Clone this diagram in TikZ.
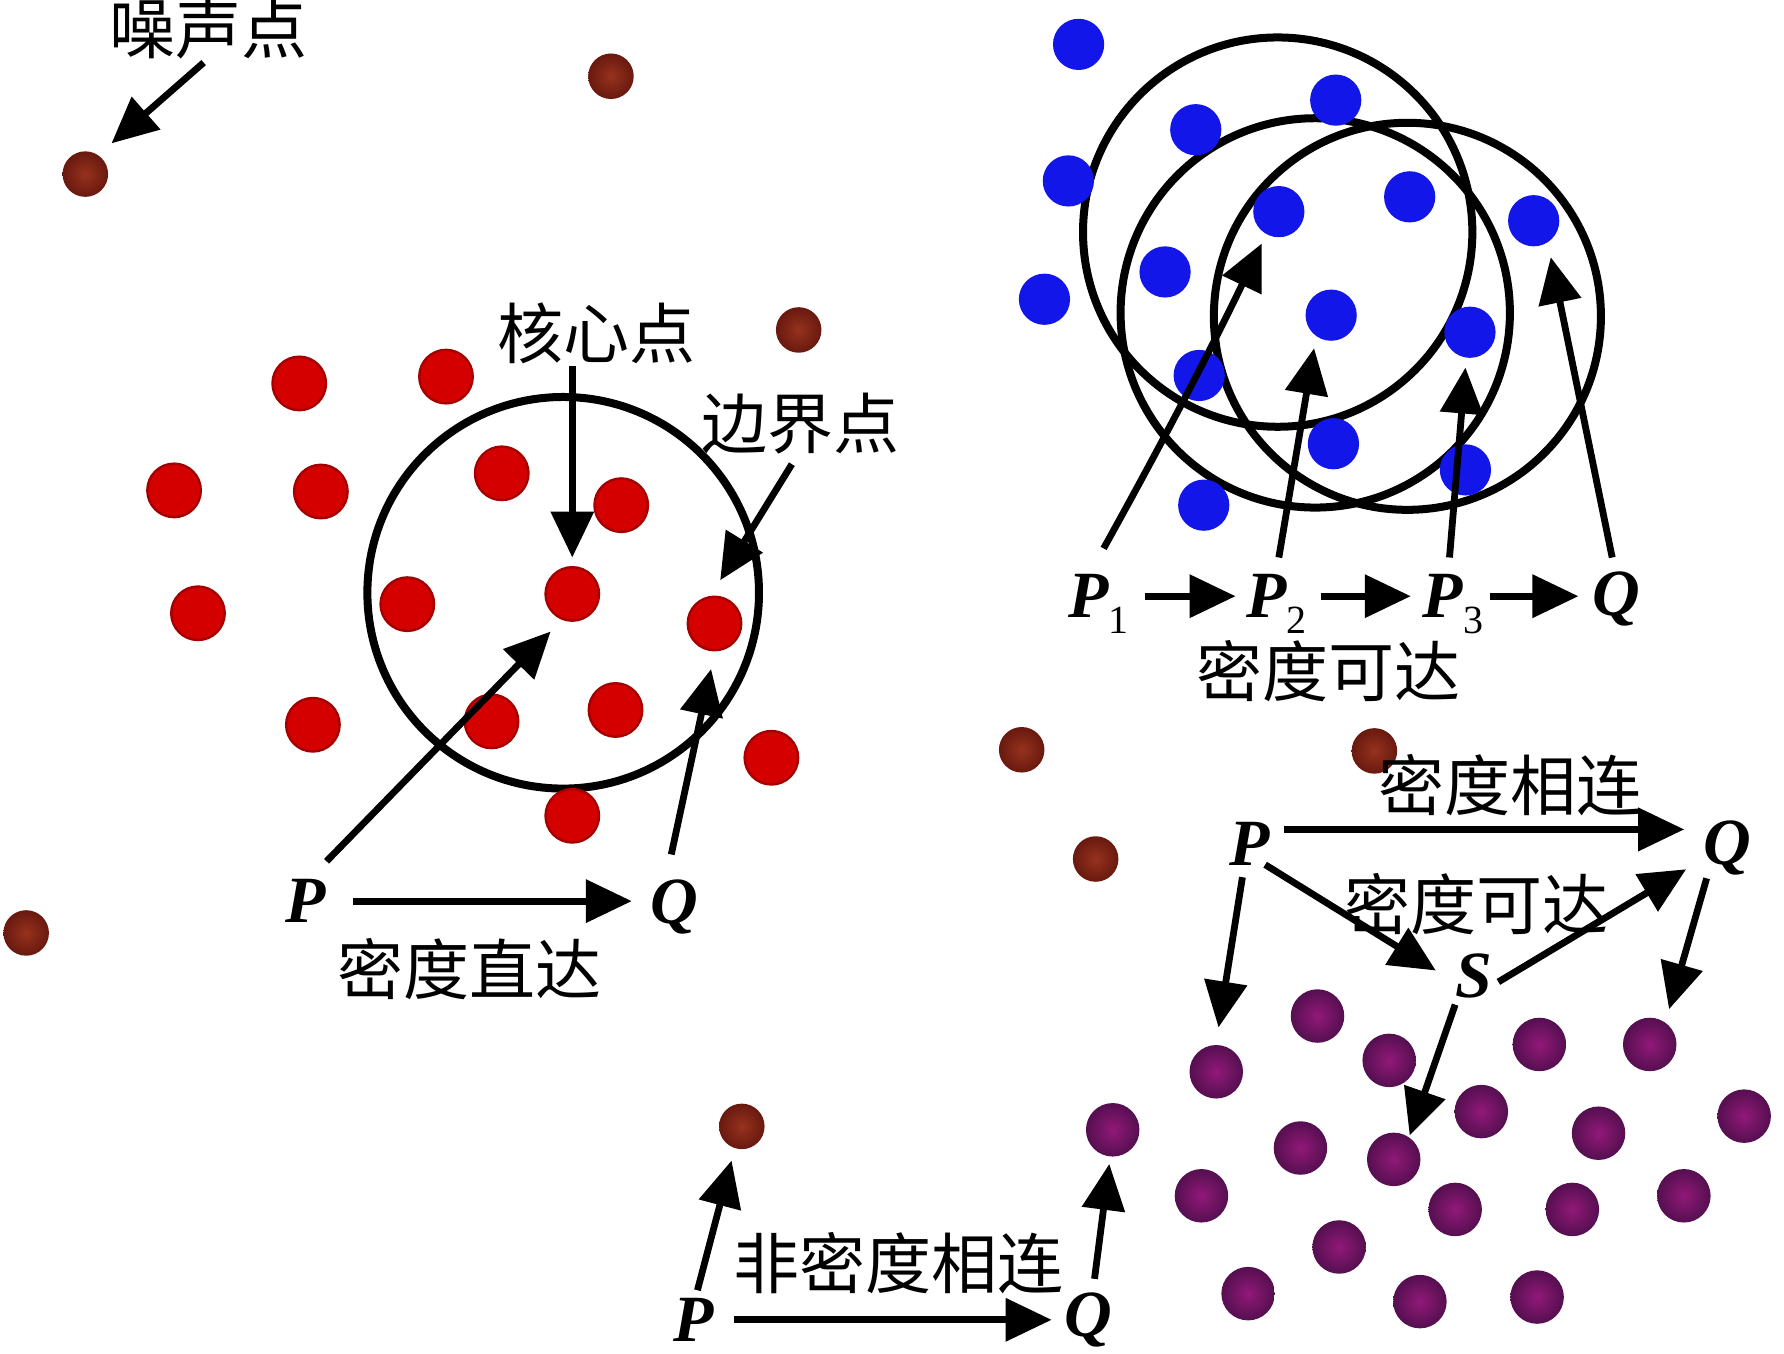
\documentclass[tikz,border=0pt]{standalone}
\usepackage{fontspec}
\setmainfont{Liberation Serif}
\newfontfamily\cjk{Noto Sans CJK SC}
\usetikzlibrary{arrows.meta}

\definecolor{noisein}{RGB}{150,50,30}
\definecolor{noiseout}{RGB}{105,25,15}
\definecolor{redfill}{RGB}{212,0,0}
\definecolor{redrim}{RGB}{165,0,0}
\definecolor{bluefill}{RGB}{18,22,232}
\definecolor{purplein}{RGB}{145,25,120}
\definecolor{purpleout}{RGB}{85,15,80}

\tikzset{
  dotpt/.style={circle, inner sep=0pt},
  noisept/.style={dotpt, minimum size=0.4cm, inner color=noisein, outer color=noiseout},
  redpt/.style={dotpt, minimum size=0.47cm, fill=redfill, draw=redrim, line width=0.6pt},
  bluept/.style={dotpt, minimum size=0.45cm, fill=bluefill},
  purplept/.style={dotpt, minimum size=0.47cm, inner color=purplein, outer color=purpleout},
  eps/.style={line width=2pt},
  arr/.style={line width=1.7pt, -{Triangle[length=11.5pt,width=10.5pt]}},
  zh/.style={font=\cjk\fontsize{16.5}{18}\selectfont, inner sep=0pt},
  pq/.style={font=\fontsize{16.5}{18}\selectfont\bfseries\itshape, inner sep=0pt, anchor=base},
  pqsub/.style={pq, anchor=base west},
}
\newcommand{\subidx}[1]{\raisebox{-4pt}[0pt][0pt]{\fontsize{10}{10}\selectfont\upshape\mdseries #1}}

\begin{document}
\begin{tikzpicture}[x=0.01cm, y=-0.01cm]
  \useasboundingbox (0,0) rectangle (1568,1190);

  % Eps neighbourhoods
  \draw[eps] (495,521) circle[radius=1.72cm];
  \draw[eps] (1123,204) circle[radius=1.71cm];
  \draw[eps] (1156,275) circle[radius=1.71cm];
  \draw[eps] (1237,278) circle[radius=1.70cm];

  % Noise points
  \foreach \x/\y/\n in {75/153/1, 537/67/2, 702/290/3, 23/820/4, 898/659/5, 1208/660/6, 963/755/7, 652/990/8}
    \node[noisept] (n\n) at (\x,\y) {};

  % Red cluster (r9 core, r10 border)
  \foreach \x/\y/\n in {263/337/1, 392/331/2, 153/431/3, 282/432/4, 441/416/5, 546/444/6, 174/539/7, 358/531/8,
                        503/522/9, 628/548/10, 275/637/11, 432/634/12, 541/624/13, 678/666/14, 503/717/15}
    \node[redpt] (r\n) at (\x,\y) {};

  % Blue cluster
  \foreach \x/\y/\n in {948/39/1, 1051/114/2, 1174/88/3, 939/159/4, 1239/173/5, 1124/186/6, 1348/194/7, 1024/239/8,
                        918/263/9, 1170/277/10, 1292/292/11, 1054/330/12, 1172/390/13, 1288/413/14, 1058/444/15}
    \node[bluept] (b\n) at (\x,\y) {};

  % Purple cluster
  \foreach \x/\y/\n in {1158/893/1, 1069/942/2, 1221/932/3, 1353/918/4, 1450/918/5, 1302/977/6, 1405/996/7,
                        1533/981/8, 978/993/9, 1143/1009/10, 1225/1019/11, 1056/1051/12, 1279/1063/13,
                        1382/1063/14, 1480/1051/15, 1177/1096/16, 1097/1137/17, 1248/1144/18, 1351/1140/19}
    \node[purplept] (m\n) at (\x,\y) {};

  % Labels, left part
  \node[zh] (lblNoise) at (183,25) {噪声点};
  \node[zh] (lblCore) at (524,293) {核心点};
  \node[zh] (lblBorder) at (704,372) {边界点};
  \node[pq] (pA) at (269,811) {P};
  \node[pq] (qA) at (593,812) {Q};
  \node[zh] (lblDirect) at (413,852) {密度直达};

  % Labels, upper right
  \node[pqsub] (p1) at (938,543) {P\subidx{1}};
  \node[pqsub] (p2) at (1095,543) {P\subidx{2}};
  \node[pqsub] (p3) at (1250,543) {P\subidx{3}};
  \node[pq] (qB) at (1421,541) {Q};
  \node[zh] (lblReach) at (1168,590) {密度可达};

  % Labels, lower right
  \node[pq] (pC) at (1098,761) {P};
  \node[pq] (qC) at (1518,760) {Q};
  \node[pq] (sC) at (1295,877) {S};
  \node[zh] (lblConn) at (1328,690) {密度相连};
  \node[zh] (lblReachS) at (1298,795) {密度可达};

  % Labels, bottom
  \node[pq] (pD) at (610,1179) {P};
  \node[pq] (qD) at (957,1175) {Q};
  \node[zh] (lblNotConn) at (790,1110) {非密度相连};

  % Arrow ends
  \coordinate (tNoise) at (179,55);   \coordinate (hNoise) at (98,126);
  \coordinate (tCore) at (503,322);   \coordinate (hCore) at (503,490);
  \coordinate (tBorder) at (696,408); \coordinate (hBorder) at (633,510);
  \coordinate (tPA) at (287,757);     \coordinate (hPA) at (484,555);
  \coordinate (tQA) at (590,751);     \coordinate (hQA) at (625,588);
  \coordinate (tUp1) at (970,482);    \coordinate (hUp1) at (1109,214);
  \coordinate (tUp2) at (1124,490);   \coordinate (hUp2) at (1155,306);
  \coordinate (tUp3) at (1274,490);   \coordinate (hUp3) at (1288,323);
  \coordinate (tUpQ) at (1417,490);   \coordinate (hUpQ) at (1363,226);
  \coordinate (pCe) at ([yshift=0.13cm]pC.east);
  \coordinate (tPS) at (1112,760);    \coordinate (hPS) at (1262,853);
  \coordinate (tSQ) at (1317,863);    \coordinate (hSQ) at (1482,764);
  \coordinate (tPdn) at (1092,771);   \coordinate (hPdn) at (1071,903);
  \coordinate (tQdn) at (1500,772);   \coordinate (hQdn) at (1467,887);
  \coordinate (tSdn) at (1279,883);   \coordinate (hSdn) at (1239,998);
  \coordinate (tPup) at (613,1134);   \coordinate (hPup) at (643,1020);
  \coordinate (tQup) at (962,1124);   \coordinate (hQup) at (975,1023);

  % Left: noise, core, border, directly reachable
  \draw[arr] (tNoise) -- (hNoise);
  \draw[arr] (tCore) -- (hCore);
  \draw[arr] (tBorder) -- (hBorder);
  \draw[arr] (tPA) -- (hPA);
  \draw[arr] (tQA) -- (hQA);
  \draw[arr, shorten <=0.23cm, shorten >=0.16cm] (pA.east) -- (pA.east -| qA.west);

  % Upper right: reachable chain
  \draw[arr] (tUp1) .. controls (1035,365) and (1075,285) .. (hUp1);
  \draw[arr] (tUp2) -- (hUp2);
  \draw[arr] (tUp3) -- (hUp3);
  \draw[arr] (tUpQ) -- (hUpQ);
  \draw[arr, shorten <=0.14cm, shorten >=0.09cm] (p1.east) -- (p1.east -| p2.west);
  \draw[arr, shorten <=0.12cm, shorten >=0.10cm] (p2.east) -- (p2.east -| p3.west);
  \draw[arr, shorten <=0.05cm, shorten >=0.12cm] (p3.east) -- (p3.east -| qB.west);

  % Lower right: connected
  \draw[arr, shorten <=0.12cm, shorten >=0.16cm] (pCe) -- (pCe -| qC.west);
  \draw[arr] (tPS) -- (hPS);
  \draw[arr] (tSQ) -- (hSQ);
  \draw[arr] (tPdn) -- (hPdn);
  \draw[arr] (tQdn) -- (hQdn);
  \draw[arr] (tSdn) -- (hSdn);

  % Bottom: not connected
  \draw[arr] (tPup) -- (hPup);
  \draw[arr] (tQup) -- (hQup);
  \draw[arr, shorten <=0.17cm, shorten >=0.11cm] (pD.east) -- (pD.east -| qD.west);
\end{tikzpicture}
\end{document}
